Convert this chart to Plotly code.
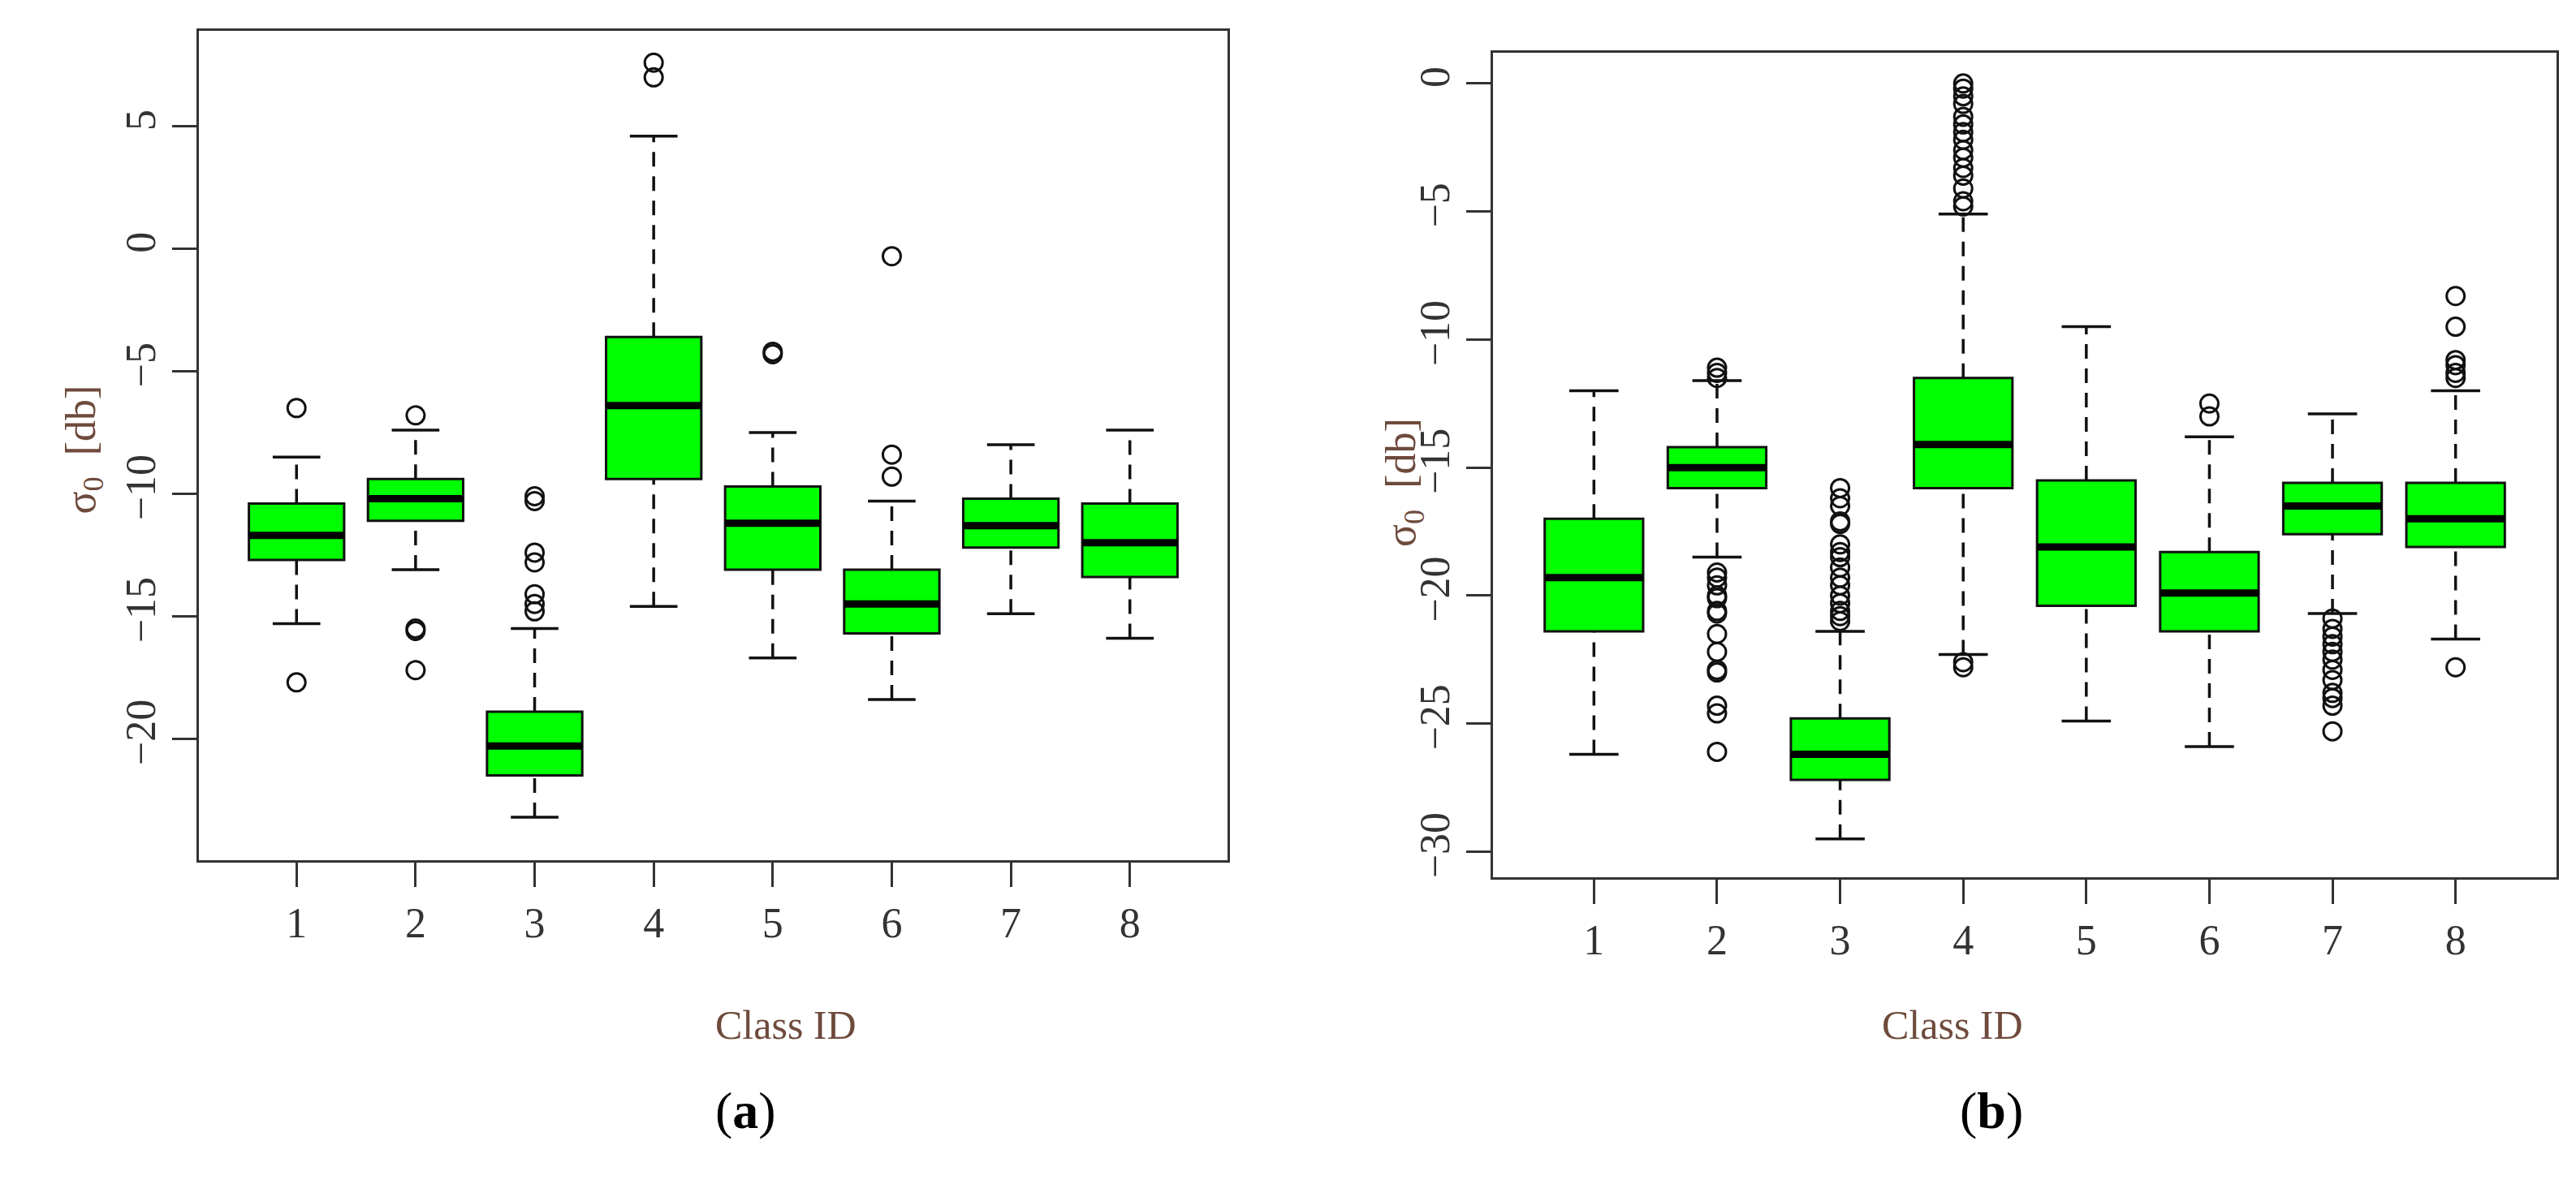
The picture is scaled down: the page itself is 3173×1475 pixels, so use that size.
import plotly.graph_objects as go

classes = [1, 2, 3, 4, 5, 6, 7, 8]

# Panel (a)
a_low = [-15.3, -13.1, -23.2, -14.6, -16.7, -18.4, -14.9, -15.9]
a_q1 = [-12.7, -11.1, -21.5, -9.4, -13.1, -15.7, -12.2, -13.4]
a_med = [-11.7, -10.2, -20.3, -6.4, -11.2, -14.5, -11.3, -12.0]
a_q3 = [-10.4, -9.4, -18.9, -3.6, -9.7, -13.1, -10.2, -10.4]
a_high = [-8.5, -7.4, -15.5, 4.6, -7.5, -10.3, -8.0, -7.4]
a_out = [[-6.5, -17.7], [-6.8, -15.5, -15.6, -17.2],
         [-14.8, -14.5, -14.1, -12.8, -12.4, -10.3, -10.1], [7.0, 7.6],
         [-4.3, -4.2], [-9.3, -8.4, -0.3], [], []]

# Panel (b)
b_low = [-26.2, -18.5, -29.5, -22.3, -24.9, -25.9, -20.7, -21.7]
b_q1 = [-21.4, -15.8, -27.2, -15.8, -20.4, -21.4, -17.6, -18.1]
b_med = [-19.3, -15.0, -26.2, -14.1, -18.1, -19.9, -16.5, -17.0]
b_q3 = [-17.0, -14.2, -24.8, -11.5, -15.5, -18.3, -15.6, -15.6]
b_high = [-12.0, -11.6, -21.4, -5.1, -9.5, -13.8, -12.9, -12.0]
b_out = [[],
         [-11.1, -11.3, -11.5, -19.1, -19.3, -19.6, -20.0, -20.1, -20.6, -20.7, -21.5, -22.2, -22.9, -23.0, -24.3, -24.6, -26.1],
         [-21.0, -20.8, -20.6, -20.3, -20.0, -19.6, -19.3, -18.9, -18.5, -18.3, -18.0, -17.2, -17.1, -16.5, -16.2, -15.8],
         [-4.8, -4.6, -4.1, -3.6, -3.3, -2.9, -2.6, -2.2, -1.9, -1.6, -1.3, -0.8, -0.5, -0.2, 0.0, -22.6, -22.8],
         [], [-13.0, -12.5],
         [-20.9, -21.3, -21.6, -21.9, -22.2, -22.5, -22.9, -23.3, -23.8, -24.0, -24.3, -25.3],
         [-11.5, -11.3, -11.0, -10.8, -9.5, -8.3, -22.8]]

fig = go.Figure()
CAP = 0.2
BOXW = 0.8
TXT = "#333333"

def panel(xa, ya, low, q1, med, q3, high, outs):
    fig.add_trace(go.Box(x=classes, q1=q1, median=med, q3=q3, lowerfence=q1, upperfence=q3,
                         width=BOXW, fillcolor="#00ff00", line=dict(color="#111111", width=3),
                         whiskerwidth=0, xaxis=xa, yaxis=ya, showlegend=False, hoverinfo="skip"))
    wx, wy, cx, cy, mx, my = [], [], [], [], [], []
    for c, lo, a, m, b, hi in zip(classes, low, q1, med, q3, high):
        wx += [c, c, None, c, c, None]
        wy += [lo, a, None, b, hi, None]
        cx += [c - CAP, c + CAP, None, c - CAP, c + CAP, None]
        cy += [lo, lo, None, hi, hi, None]
        mx += [c - BOXW / 2, c + BOXW / 2, None]
        my += [m, m, None]
    fig.add_trace(go.Scatter(x=wx, y=wy, mode="lines", line=dict(color="#111111", width=3.5, dash="18px,12px"),
                             xaxis=xa, yaxis=ya, showlegend=False))
    fig.add_trace(go.Scatter(x=cx, y=cy, mode="lines", line=dict(color="#111111", width=3.5),
                             xaxis=xa, yaxis=ya, showlegend=False))
    fig.add_trace(go.Scatter(x=mx, y=my, mode="lines", line=dict(color="#000000", width=9),
                             xaxis=xa, yaxis=ya, showlegend=False))
    ox, oy = [], []
    for c, o in zip(classes, outs):
        ox += [c] * len(o)
        oy += o
    fig.add_trace(go.Scatter(x=ox, y=oy, mode="markers",
                             marker=dict(symbol="circle-open", size=22, color="#111111", line=dict(width=3)),
                             xaxis=xa, yaxis=ya, showlegend=False))

panel("x", "y", a_low, a_q1, a_med, a_q3, a_high, a_out)
panel("x2", "y2", b_low, b_q1, b_med, b_q3, b_high, b_out)

W, H = 3173, 1475
font = dict(family="Liberation Serif", size=52, color=TXT)
xcommon = dict(range=[0.18, 8.82], tickvals=classes, ticks="outside", ticklen=30, tickwidth=3,
               tickcolor="#333", showline=True, linecolor="#333", linewidth=3, mirror=True,
               showgrid=False, zeroline=False, tickfont=font)
ycommon = dict(ticks="outside", ticklen=30, tickwidth=3, tickcolor="#333", showline=True,
               linecolor="#333", linewidth=3, mirror=True, showgrid=False, zeroline=False,
               tickfont=font, tickangle=-90, dtick=5)

L1, R1, T1, B1 = 237, 1504, 30, 1052
L2, R2, T2, B2 = 1831, 3141, 57, 1073
fig.update_layout(
    width=W, height=H, margin=dict(l=0, r=0, t=0, b=0),
    paper_bgcolor="white", plot_bgcolor="white", font=font,
    xaxis=dict(domain=[L1 / W, R1 / W], anchor="y", **xcommon),
    yaxis=dict(domain=[1 - B1 / H, 1 - T1 / H], range=[-24.96, 8.9], anchor="x", **ycommon),
    xaxis2=dict(domain=[L2 / W, R2 / W], anchor="y2", **xcommon),
    yaxis2=dict(domain=[1 - B2 / H, 1 - T2 / H], range=[-31.0, 1.2], anchor="x2", **ycommon),
)

ylab_color = "#6e4a3c"
ann = [
    dict(x=(L1 + R1) / 2 / W, y=1 - 1285 / H, text="Class ID"),
    dict(x=(L2 + R2) / 2 / W, y=1 - 1285 / H, text="Class ID"),
    dict(x=(L1 + R1) / 2 / W, y=1 - 1398 / H, text="(<b>a</b>)", size=64),
    dict(x=(L2 + R2) / 2 / W, y=1 - 1398 / H, text="(<b>b</b>)", size=64),
]
for a in ann:
    fig.add_annotation(x=a["x"], y=a["y"], xref="paper", yref="paper", text=a["text"], showarrow=False,
                       font=dict(family="Liberation Serif", size=a.get("size", 50),
                                 color="#000" if "<b>" in a["text"] else ylab_color))
for xp, yp in [(61, 546), (1722, 587)]:
    fig.add_annotation(x=xp / W, y=1 - yp / H, xref="paper", yref="paper",
                       text="σ<sub>0</sub>  [db]", showarrow=False, textangle=-90,
                       font=dict(family="Liberation Serif", size=52, color=ylab_color))

fig.write_html("out.html")
